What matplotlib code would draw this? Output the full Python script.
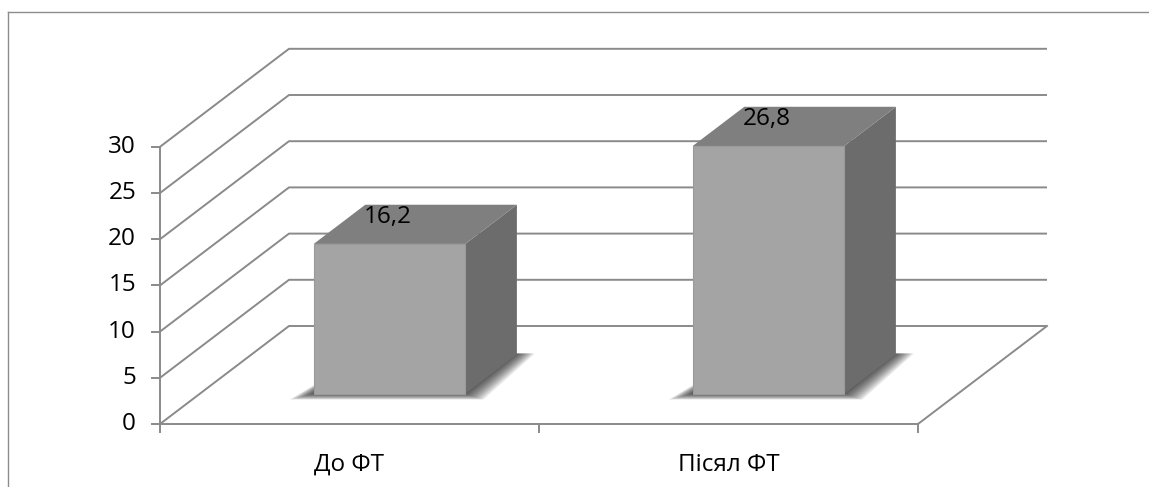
import matplotlib
matplotlib.use("Agg")
import matplotlib.pyplot as plt
from matplotlib.patches import Polygon
import numpy as np

plt.rcParams['font.family'] = ['Open Sans', 'DejaVu Sans']

categories = ['До ФТ', 'Пісял ФТ']
values = [16.2, 26.8]
value_labels = ['16,2', '26,8']
yticks = [0, 5, 10, 15, 20, 25, 30]

W, H = 1149, 487
x0_px, cat_px = 160, 379      # category axis origin and width of one category
y0_px, val_px = 424, 9.24     # value axis origin (from top) and pixels per unit
DX = 129 / cat_px             # full depth offset, in category units
DY = 98 / val_px              # full depth offset, in value units

fig = plt.figure(figsize=(W / 100, H / 100), dpi=100)
ax = fig.add_axes([0, 0, 1, 1])
ax.set_xlim(-x0_px / cat_px, (W - x0_px) / cat_px)
ax.set_ylim((y0_px - H) / val_px, y0_px / val_px)
ax.axis('off')

grid_c = '#8a8a8a'
fs = 17.5
ncat = len(categories)


def proj(x, v, d):
    return x + d * DX, v + d * DY


# outer frame (left and top only)
fig.add_artist(plt.Line2D([8 / W, 8 / W], [0, 1 - 12 / H], color='#8c8c8c', lw=1.0))
fig.add_artist(plt.Line2D([8 / W, 1], [1 - 12 / H, 1 - 12 / H], color='#8c8c8c', lw=1.0))

# side wall diagonals and back wall lines
for t in yticks:
    xa, va = proj(0, t, 0)
    xb, vb = proj(0, t, 1)
    xc, vc = proj(ncat, t, 1)
    ax.plot([xa, xb, xc], [va, vb, vc], color=grid_c, lw=1.4, solid_capstyle='butt', zorder=1)

# floor
fl = [proj(0, 0, 0), proj(ncat, 0, 0), proj(ncat, 0, 1)]
ax.plot([p[0] for p in fl], [p[1] for p in fl], color=grid_c, lw=1.4, zorder=1)

# value axis
ax.plot([0, 0], [0, yticks[-1]], color=grid_c, lw=1.4, zorder=1)
tick_w = 8 / cat_px
for t in yticks:
    ax.plot([-tick_w, 0], [t, t], color=grid_c, lw=1.4, zorder=1)
    ax.text(-24 / cat_px, t, str(t), ha='right', va='center', fontsize=fs, color='black')

# category ticks and labels
for i in range(ncat + 1):
    ax.plot([i, i], [0, -8 / val_px], color=grid_c, lw=1.4, zorder=1)
for i, c in enumerate(categories):
    ax.text(i + 0.5, -41 / val_px, c, ha='center', va='center', fontsize=fs, color='black')

# bars
bw = 0.4
d0, d1 = 0.31, 0.71
for i, v in enumerate(values):
    xl, xr = i + 0.5 - bw / 2, i + 0.5 + bw / 2
    # soft shadow on the floor, stacked translucent layers
    foot = [proj(xl, 0, d0), proj(xr, 0, d0), proj(xr, 0, d1), proj(xl, 0, d1)]
    n = 10
    for k in range(n):
        s = 1 - k / n
        eL = 24 * s / cat_px
        eR = 18 * s / cat_px
        ev = 6 * s / val_px
        sh = [(foot[0][0] - eL, foot[0][1] - ev),
              (foot[1][0] + eR, foot[1][1] - ev),
              (foot[2][0] + eR, foot[2][1] + 1 / val_px),
              (foot[3][0], foot[3][1])]
        ax.add_patch(Polygon(sh, closed=True, facecolor='black', edgecolor='none',
                             alpha=0.09, zorder=2))
    front = [proj(xl, 0, d0), proj(xr, 0, d0), proj(xr, v, d0), proj(xl, v, d0)]
    side = [proj(xr, 0, d0), proj(xr, 0, d1), proj(xr, v, d1), proj(xr, v, d0)]
    top = [proj(xl, v, d0), proj(xr, v, d0), proj(xr, v, d1), proj(xl, v, d1)]
    ax.add_patch(Polygon(side, closed=True, facecolor='#6c6c6c', edgecolor='none', zorder=3))
    ax.add_patch(Polygon(top, closed=True, facecolor='#7f7f7f', edgecolor='none', zorder=3))
    ax.add_patch(Polygon(front, closed=True, facecolor='#a4a4a4', edgecolor='#9a9a9a',
                         lw=0.8, zorder=4))
    fx, fv = proj(i + 0.5, v, d0)
    ax.annotate(value_labels[i], (fx, fv), xytext=(-1.5, 19.5), textcoords='offset points',
                ha='center', va='center', fontsize=fs, color='black', zorder=5)

fig.savefig('out.png', dpi=100, facecolor='white')
